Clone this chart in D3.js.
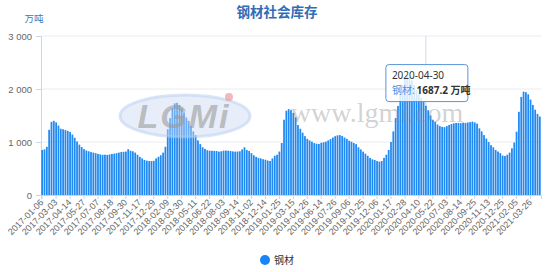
<!DOCTYPE html>
<html>
<head>
<meta charset="utf-8">
<script src="https://cdn.jsdelivr.net/npm/d3@7"></script>
<style>
  body { margin: 0; background: #fff; }
  svg { display: block; font-family: "Noto Sans", "Noto Sans CJK SC", sans-serif; }
</style>
</head>
<body>
<svg id="chart"></svg>
<script>
// weekly dates (holiday weeks missing in the source)
const dates = [
  "2017-01-06","2017-01-13","2017-01-20","2017-02-10","2017-02-17","2017-02-24","2017-03-03","2017-03-10","2017-03-17","2017-03-24",
  "2017-03-31","2017-04-07","2017-04-14","2017-04-21","2017-04-28","2017-05-05","2017-05-12","2017-05-19","2017-05-27","2017-06-02",
  "2017-06-09","2017-06-16","2017-06-23","2017-06-30","2017-07-07","2017-07-14","2017-07-21","2017-07-28","2017-08-04","2017-08-11",
  "2017-08-18","2017-08-25","2017-09-01","2017-09-08","2017-09-15","2017-09-22","2017-09-30","2017-10-13","2017-10-20","2017-10-27",
  "2017-11-03","2017-11-10","2017-11-17","2017-11-24","2017-12-01","2017-12-08","2017-12-15","2017-12-22","2017-12-29","2018-01-05",
  "2018-01-12","2018-01-19","2018-01-26","2018-02-02","2018-02-09","2018-02-23","2018-03-02","2018-03-09","2018-03-16","2018-03-23",
  "2018-03-30","2018-04-04","2018-04-13","2018-04-20","2018-04-27","2018-05-04","2018-05-11","2018-05-18","2018-05-25","2018-06-01",
  "2018-06-08","2018-06-15","2018-06-22","2018-06-29","2018-07-06","2018-07-13","2018-07-20","2018-07-27","2018-08-03","2018-08-10",
  "2018-08-17","2018-08-24","2018-08-31","2018-09-07","2018-09-14","2018-09-21","2018-09-29","2018-10-12","2018-10-19","2018-10-26",
  "2018-11-02","2018-11-09","2018-11-16","2018-11-23","2018-11-30","2018-12-07","2018-12-14","2018-12-21","2018-12-28","2019-01-04",
  "2019-01-11","2019-01-18","2019-01-25","2019-02-01","2019-02-15","2019-02-22","2019-03-01","2019-03-08","2019-03-15","2019-03-22",
  "2019-03-29","2019-04-04","2019-04-12","2019-04-19","2019-04-26","2019-05-10","2019-05-17","2019-05-24","2019-05-31","2019-06-06",
  "2019-06-14","2019-06-21","2019-06-28","2019-07-05","2019-07-12","2019-07-19","2019-07-26","2019-08-02","2019-08-09","2019-08-16",
  "2019-08-23","2019-08-30","2019-09-06","2019-09-12","2019-09-20","2019-09-27","2019-10-11","2019-10-18","2019-10-25","2019-11-01",
  "2019-11-08","2019-11-15","2019-11-22","2019-11-29","2019-12-06","2019-12-13","2019-12-20","2019-12-27","2020-01-03","2020-01-10",
  "2020-01-17","2020-01-23","2020-01-31","2020-02-07","2020-02-14","2020-02-21","2020-02-28","2020-03-06","2020-03-13","2020-03-20",
  "2020-03-27","2020-04-03","2020-04-10","2020-04-17","2020-04-24","2020-04-30","2020-05-08","2020-05-15","2020-05-22","2020-05-29",
  "2020-06-05","2020-06-12","2020-06-19","2020-06-24","2020-07-03","2020-07-10","2020-07-17","2020-07-24","2020-07-31","2020-08-07",
  "2020-08-14","2020-08-21","2020-08-28","2020-09-04","2020-09-11","2020-09-18","2020-09-25","2020-10-09","2020-10-16","2020-10-23",
  "2020-10-30","2020-11-06","2020-11-13","2020-11-20","2020-11-27","2020-12-04","2020-12-11","2020-12-18","2020-12-25","2020-12-31",
  "2021-01-08","2021-01-15","2021-01-22","2021-01-29","2021-02-05","2021-02-19","2021-02-26","2021-03-05","2021-03-12","2021-03-19",
  "2021-03-26","2021-04-02","2021-04-09","2021-04-16","2021-04-23"
];

// 钢材社会库存, 万吨
const steelStock = [
  850, 860, 910, 1230, 1380, 1400, 1370, 1310, 1250, 1240,
  1225, 1210, 1190, 1140, 1080, 1010, 950, 905, 865, 840,
  825, 810, 800, 790, 775, 765, 758, 760, 757, 765,
  775, 780, 790, 800, 810, 815, 820, 865, 835, 825,
  800, 760, 720, 690, 660, 648, 640, 640, 645, 690,
  720, 750, 800, 910, 1240, 1450, 1640, 1730, 1740, 1700,
  1640, 1560, 1460, 1400, 1300, 1200, 1130, 1030, 960, 900,
  870, 845, 835, 835, 832, 830, 818, 825, 836, 838,
  836, 830, 822, 818, 820, 825, 860, 900, 850, 830,
  790, 750, 720, 700, 690, 675, 665, 650, 641, 690,
  740, 760, 820, 980, 1420, 1590, 1620, 1600, 1550, 1465,
  1320, 1250, 1176, 1110, 1060, 1030, 1006, 980, 968, 962,
  985, 995, 1006, 1030, 1055, 1085, 1110, 1126, 1130, 1113,
  1085, 1060, 1025, 1005, 980, 960, 900, 860, 818, 780,
  740, 700, 673, 660, 640, 629, 641, 700, 760, 849,
  1000, 1200, 1450, 1680, 1900, 2080, 2200, 2250, 2230, 2160,
  2070, 1980, 1900, 1830, 1760, 1687.2, 1600, 1500, 1420, 1380,
  1330, 1300, 1285, 1280, 1300, 1320, 1340, 1352, 1360, 1358,
  1355, 1365, 1360, 1368, 1375, 1385, 1370, 1345, 1258, 1200,
  1130, 1065, 1000, 940, 900, 850, 820, 790, 745, 735,
  760, 800, 880, 990, 1195, 1570, 1850, 1950, 1940, 1900,
  1800, 1700, 1610, 1530, 1480
];

const yTicks = [0, 1000, 2000, 3000];
const seriesName = "钢材";
const unit = "万吨";
const hoverIndex = 165;

const width = 554, height = 272;
const margin = { top: 36, right: 13, bottom: 77, left: 41 };

const svg = d3.select("#chart").attr("width", width).attr("height", height);

const x = d3.scaleBand()
  .domain(dates)
  .range([margin.left, width - margin.right]);
const y = d3.scaleLinear()
  .domain([0, 3000])
  .range([height - margin.bottom, margin.top]);

const fmt = d3.formatLocale({ decimal: ".", thousands: " ", grouping: [3], currency: ["", ""] }).format(",");

// title
svg.append("text")
  .attr("x", width / 2).attr("y", 17)
  .attr("text-anchor", "middle")
  .attr("font-size", 13.5).attr("font-weight", "bold")
  .attr("fill", "#2f6db6")
  .text("钢材社会库存");

svg.append("text")
  .attr("x", 34).attr("y", 22)
  .attr("text-anchor", "middle")
  .attr("font-size", 9.5)
  .attr("fill", "#3f74bd")
  .text(unit);

// grid
svg.append("g")
  .selectAll("line")
  .data(yTicks.filter(d => d > 0))
  .enter().append("line")
  .attr("x1", margin.left).attr("x2", width - margin.right)
  .attr("y1", d => y(d)).attr("y2", d => y(d))
  .attr("stroke", "#e9ecf1");

// y axis
const yAxis = svg.append("g")
  .attr("transform", `translate(${margin.left},0)`)
  .call(d3.axisLeft(y).tickValues(yTicks).tickSize(5).tickPadding(4).tickFormat(fmt));
yAxis.select(".domain").attr("stroke", "#ccd6eb");
yAxis.selectAll(".tick line").attr("stroke", "#ccd6eb");
yAxis.selectAll("text").attr("fill", "#666").attr("font-size", 9.5);

// bars
const step = x.bandwidth();
svg.append("g")
  .selectAll("rect")
  .data(steelStock)
  .enter().append("rect")
  .attr("x", (d, i) => x(dates[i]) + step * 0.12)
  .attr("width", step * 0.76)
  .attr("y", d => y(d))
  .attr("height", d => y(0) - y(d))
  .attr("fill", "#2089f2");

// x axis
const xAxis = svg.append("g")
  .attr("transform", `translate(0,${y(0)})`)
  .call(d3.axisBottom(x).tickValues(dates.filter((d, i) => i % 6 === 0)).tickSizeOuter(0).tickSize(4));
xAxis.select(".domain").attr("stroke", "#ccd6eb");
xAxis.selectAll(".tick line").attr("stroke", "#ccd6eb");
xAxis.selectAll("text")
  .attr("fill", "#666").attr("font-size", 9)
  .attr("text-anchor", "end")
  .attr("dy", null)
  .attr("y", 0)
  .attr("transform", "translate(2,8) rotate(-45)");

// watermark
const wm = svg.append("g").attr("pointer-events", "none");
wm.append("ellipse")
  .attr("cx", 185).attr("cy", 116).attr("rx", 65).attr("ry", 21)
  .attr("fill", "#c9daf3").attr("fill-opacity", 0.45)
  .attr("stroke", "#b6cdef").attr("stroke-width", 3).attr("stroke-opacity", 0.5);
wm.append("text")
  .attr("x", 184).attr("y", 128)
  .attr("text-anchor", "middle")
  .attr("font-family", "Liberation Sans, sans-serif")
  .attr("font-size", 34).attr("font-weight", "bold").attr("font-style", "italic")
  .attr("fill", "#9a9a9a").attr("fill-opacity", 0.6)
  .attr("letter-spacing", 2)
  .text("LGMi");
wm.append("circle")
  .attr("cx", 229).attr("cy", 97).attr("r", 4)
  .attr("fill", "#e88a8a").attr("fill-opacity", 0.6);
wm.append("text")
  .attr("x", 377).attr("y", 122)
  .attr("text-anchor", "middle")
  .attr("font-family", "Liberation Serif, serif")
  .attr("font-size", 28)
  .attr("fill", "#8c8c8c").attr("fill-opacity", 0.4)
  .text("www.lgmi.com");

// hover pointer + tooltip
const hx = x(dates[hoverIndex]) + step / 2;
const hv = steelStock[hoverIndex];
svg.append("line")
  .attr("x1", hx).attr("x2", hx)
  .attr("y1", margin.top).attr("y2", y(hv))
  .attr("stroke", "#d5dbe6");

const tipW = 82, tipH = 37;
const tipX = hx - 40, tipY = y(hv) - 4 - tipH;
const tip = svg.append("g").attr("transform", `translate(${tipX},${tipY})`);
tip.append("rect")
  .attr("width", tipW).attr("height", tipH).attr("rx", 3)
  .attr("fill", "#fff").attr("fill-opacity", 0.82)
  .attr("stroke", "#5b95d9").attr("stroke-width", 1);
tip.append("text")
  .attr("x", 6).attr("y", 14)
  .attr("font-size", 10).attr("fill", "#333")
  .text(dates[hoverIndex]);
const line2 = tip.append("text")
  .attr("x", 6).attr("y", 29)
  .attr("font-size", 10);
line2.append("tspan").attr("fill", "#4a90e2").text(seriesName + ":");
line2.append("tspan").attr("dx", 2).attr("fill", "#333").attr("font-weight", "bold").text(hv + " " + unit);

// legend
const lg = svg.append("g").attr("transform", `translate(${width / 2},260)`);
lg.append("circle").attr("cx", -12).attr("cy", 0).attr("r", 5).attr("fill", "#1884f5");
lg.append("text")
  .attr("x", -3).attr("y", 3.5)
  .attr("font-size", 10).attr("fill", "#333")
  .text(seriesName);
</script>
</body>
</html>
